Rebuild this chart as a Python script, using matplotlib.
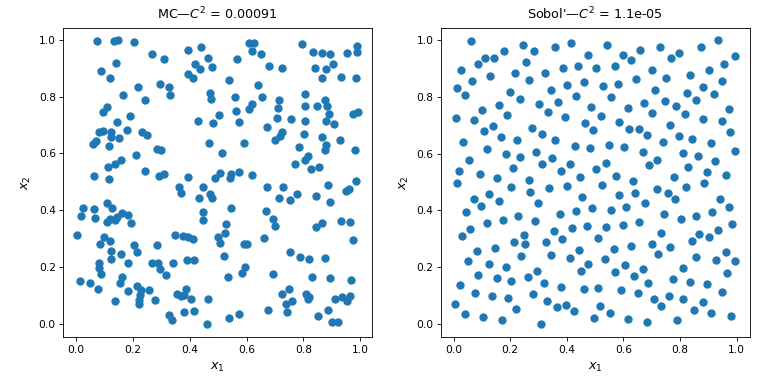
import numpy as np
import matplotlib
matplotlib.use("Agg")
import matplotlib.pyplot as plt

# === Point sets (x1, x2) ===
mc_points = [
    (0.075, 0.994), (0.135, 0.994), (0.149, 0.998), (0.205, 0.992), (0.268, 0.950),
    (0.311, 0.931), (0.395, 0.962), (0.441, 0.973), (0.465, 0.934), (0.419, 0.914),
    (0.436, 0.897), (0.479, 0.904), (0.142, 0.918), (0.089, 0.889), (0.121, 0.864),
    (0.395, 0.879), (0.410, 0.865), (0.219, 0.832), (0.295, 0.844), (0.328, 0.832),
    (0.332, 0.804), (0.166, 0.804), (0.244, 0.787), (0.470, 0.812), (0.474, 0.793),
    (0.108, 0.763), (0.096, 0.744), (0.188, 0.730), (0.145, 0.709), (0.430, 0.714),
    (0.483, 0.708), (0.178, 0.682), (0.079, 0.674), (0.096, 0.678), (0.122, 0.675),
    (0.123, 0.659), (0.150, 0.653), (0.070, 0.642), (0.061, 0.633), (0.117, 0.626),
    (0.232, 0.675), (0.249, 0.666), (0.469, 0.635), (0.283, 0.615), (0.300, 0.611),
    (0.212, 0.594), (0.159, 0.576), (0.138, 0.563), (0.111, 0.553), (0.064, 0.519),
    (0.117, 0.510), (0.244, 0.537), (0.292, 0.522), (0.308, 0.528), (0.395, 0.517),
    (0.490, 0.515),
    (0.610, 0.989), (0.627, 0.988), (0.620, 0.959), (0.652, 0.950), (0.796, 0.985),
    (0.834, 0.957), (0.865, 0.953), (0.893, 0.950), (0.905, 0.914), (0.954, 0.953),
    (0.989, 0.977), (0.987, 0.955), (0.567, 0.931), (0.680, 0.906), (0.726, 0.900),
    (0.842, 0.899), (0.880, 0.896), (0.866, 0.865), (0.933, 0.869), (0.986, 0.864),
    (0.539, 0.860), (0.641, 0.839), (0.655, 0.798), (0.560, 0.797), (0.715, 0.788),
    (0.710, 0.760), (0.807, 0.809), (0.807, 0.766), (0.849, 0.767), (0.875, 0.789),
    (0.882, 0.766), (0.889, 0.739), (0.879, 0.715), (0.909, 0.702), (0.618, 0.774),
    (0.607, 0.756), (0.564, 0.749), (0.504, 0.734), (0.574, 0.709), (0.708, 0.725),
    (0.757, 0.721), (0.805, 0.714), (0.975, 0.739), (0.993, 0.746), (0.673, 0.692),
    (0.723, 0.675), (0.717, 0.660), (0.698, 0.647), (0.802, 0.669), (0.866, 0.658),
    (0.880, 0.631), (0.877, 0.612), (0.930, 0.647), (0.592, 0.635), (0.785, 0.623),
    (0.815, 0.592), (0.805, 0.578), (0.982, 0.612), (0.512, 0.600), (0.770, 0.563),
    (0.828, 0.544), (0.856, 0.551), (0.506, 0.531), (0.544, 0.528), (0.542, 0.513),
    (0.574, 0.533), (0.620, 0.524), (0.986, 0.504),
    (0.362, 0.481), (0.368, 0.460), (0.448, 0.483), (0.434, 0.442), (0.472, 0.457),
    (0.477, 0.443), (0.448, 0.395), (0.448, 0.366), (0.108, 0.424), (0.128, 0.407),
    (0.026, 0.407), (0.018, 0.380), (0.064, 0.403), (0.068, 0.372), (0.108, 0.358),
    (0.120, 0.368), (0.137, 0.366), (0.145, 0.377), (0.161, 0.389), (0.184, 0.383),
    (0.193, 0.354), (0.005, 0.313), (0.098, 0.305), (0.084, 0.281), (0.118, 0.291),
    (0.124, 0.258), (0.122, 0.229), (0.158, 0.246), (0.202, 0.278), (0.216, 0.252),
    (0.283, 0.278), (0.182, 0.215), (0.082, 0.216), (0.079, 0.197), (0.088, 0.175),
    (0.266, 0.216), (0.287, 0.213), (0.294, 0.192), (0.318, 0.171), (0.342, 0.213),
    (0.349, 0.312), (0.377, 0.309), (0.395, 0.307), (0.410, 0.300), (0.389, 0.227),
    (0.416, 0.227), (0.015, 0.151), (0.050, 0.143), (0.076, 0.122), (0.161, 0.164),
    (0.155, 0.143), (0.138, 0.081), (0.182, 0.115), (0.216, 0.135), (0.229, 0.120),
    (0.225, 0.103), (0.222, 0.084), (0.220, 0.069), (0.258, 0.120), (0.279, 0.084),
    (0.354, 0.104), (0.368, 0.098), (0.385, 0.122), (0.380, 0.102), (0.403, 0.088),
    (0.464, 0.088), (0.327, 0.033), (0.339, 0.014), (0.381, 0.041), (0.416, 0.046),
    (0.461, 0.002),
    (0.673, 0.481), (0.729, 0.481), (0.885, 0.489), (0.715, 0.442), (0.754, 0.438),
    (0.778, 0.456), (0.843, 0.450), (0.893, 0.431), (0.948, 0.467), (0.960, 0.474),
    (0.545, 0.407), (0.669, 0.399), (0.694, 0.368), (0.701, 0.345), (0.529, 0.351),
    (0.524, 0.322), (0.501, 0.307), (0.506, 0.286), (0.662, 0.301), (0.592, 0.280),
    (0.601, 0.280), (0.845, 0.340), (0.864, 0.354), (0.932, 0.363), (0.965, 0.358),
    (0.975, 0.294), (0.522, 0.241), (0.754, 0.252), (0.787, 0.237), (0.821, 0.229),
    (0.877, 0.234), (0.594, 0.199), (0.585, 0.178), (0.536, 0.164), (0.691, 0.175),
    (0.831, 0.164), (0.893, 0.162), (0.967, 0.154), (0.750, 0.125), (0.726, 0.104),
    (0.761, 0.082), (0.739, 0.070), (0.743, 0.043), (0.808, 0.106), (0.819, 0.096),
    (0.815, 0.089), (0.911, 0.088), (0.934, 0.096), (0.952, 0.082), (0.964, 0.098),
    (0.676, 0.049), (0.574, 0.034), (0.539, 0.021), (0.852, 0.028), (0.887, 0.049),
    (0.899, 0.009), (0.920, 0.009),
]

sobol_points = [
    (0.061, 0.995), (0.246, 0.983), (0.285, 0.962), (0.359, 0.973), (0.416, 0.987),
    (0.476, 0.948), (0.178, 0.959), (0.111, 0.936), (0.143, 0.936), (0.087, 0.913),
    (0.255, 0.923), (0.026, 0.892), (0.129, 0.874), (0.217, 0.882), (0.266, 0.860),
    (0.322, 0.884), (0.387, 0.902), (0.440, 0.909), (0.505, 0.899), (0.065, 0.854),
    (0.012, 0.831), (0.040, 0.807), (0.200, 0.817), (0.234, 0.792), (0.345, 0.822),
    (0.401, 0.842), (0.462, 0.850), (0.433, 0.803), (0.370, 0.782), (0.302, 0.775),
    (0.161, 0.771), (0.100, 0.752), (0.190, 0.736), (0.334, 0.746), (0.394, 0.729),
    (0.486, 0.764), (0.007, 0.726), (0.072, 0.718), (0.465, 0.708), (0.494, 0.683),
    (0.139, 0.697), (0.107, 0.679), (0.277, 0.691), (0.314, 0.669), (0.168, 0.658),
    (0.224, 0.647), (0.359, 0.647), (0.035, 0.639), (0.118, 0.617), (0.187, 0.599),
    (0.234, 0.588), (0.292, 0.607), (0.430, 0.627), (0.483, 0.619), (0.055, 0.577),
    (0.349, 0.585), (0.313, 0.563), (0.412, 0.564), (0.210, 0.548), (0.380, 0.540),
    (0.447, 0.518), (0.503, 0.544), (0.019, 0.538), (0.093, 0.528), (0.153, 0.513),
    (0.267, 0.507),
    (0.543, 0.983), (0.597, 0.948), (0.628, 0.927), (0.660, 0.965), (0.731, 0.976),
    (0.770, 0.934), (0.798, 0.955), (0.875, 0.976), (0.933, 0.998), (0.993, 0.941),
    (0.954, 0.916), (0.904, 0.895), (0.947, 0.856), (0.571, 0.906), (0.702, 0.892),
    (0.646, 0.863), (0.751, 0.866), (0.837, 0.877), (0.529, 0.837), (0.582, 0.846),
    (0.713, 0.824), (0.826, 0.814), (0.883, 0.834), (0.919, 0.810), (0.855, 0.789),
    (0.557, 0.800), (0.673, 0.778), (0.747, 0.785), (0.787, 0.767), (0.972, 0.758),
    (0.617, 0.761), (0.702, 0.742), (0.818, 0.738), (0.880, 0.722), (0.950, 0.715),
    (0.521, 0.732), (0.586, 0.711), (0.764, 0.700), (0.621, 0.686), (0.655, 0.686),
    (0.685, 0.665), (0.795, 0.662), (0.844, 0.651), (0.978, 0.676), (0.741, 0.640),
    (0.911, 0.637), (0.550, 0.630), (0.603, 0.623), (0.671, 0.605), (0.809, 0.601),
    (0.865, 0.591), (0.996, 0.610), (0.720, 0.579), (0.692, 0.560), (0.540, 0.567),
    (0.924, 0.573), (0.830, 0.552), (0.574, 0.520), (0.780, 0.518), (0.897, 0.534),
    (0.961, 0.524), (0.635, 0.505),
    (0.012, 0.498), (0.202, 0.481), (0.269, 0.466), (0.338, 0.478), (0.401, 0.486),
    (0.072, 0.442), (0.125, 0.458), (0.161, 0.432), (0.097, 0.417), (0.043, 0.395),
    (0.299, 0.428), (0.455, 0.446), (0.375, 0.389), (0.433, 0.399), (0.489, 0.408),
    (0.228, 0.380), (0.175, 0.368), (0.118, 0.357), (0.288, 0.364), (0.471, 0.347),
    (0.419, 0.340), (0.057, 0.336), (0.030, 0.311), (0.249, 0.315), (0.253, 0.281),
    (0.355, 0.327), (0.384, 0.301), (0.327, 0.288), (0.214, 0.290), (0.083, 0.258),
    (0.146, 0.268), (0.237, 0.241), (0.345, 0.245), (0.412, 0.233), (0.444, 0.262),
    (0.476, 0.212), (0.451, 0.189), (0.051, 0.224), (0.125, 0.212), (0.185, 0.200),
    (0.295, 0.189), (0.087, 0.172), (0.153, 0.163), (0.202, 0.151), (0.263, 0.166),
    (0.320, 0.145), (0.380, 0.130), (0.460, 0.125), (0.022, 0.138), (0.074, 0.110),
    (0.136, 0.101), (0.192, 0.092), (0.281, 0.106), (0.331, 0.083), (0.365, 0.061),
    (0.398, 0.067), (0.426, 0.047), (0.005, 0.071), (0.039, 0.035), (0.104, 0.026),
    (0.170, 0.015), (0.221, 0.053), (0.309, 0.002), (0.497, 0.021),
    (0.525, 0.489), (0.823, 0.481), (0.885, 0.495), (0.720, 0.474), (0.756, 0.460),
    (0.783, 0.439), (0.641, 0.462), (0.586, 0.453), (0.678, 0.425), (0.610, 0.414),
    (0.557, 0.403), (0.940, 0.439), (0.975, 0.414), (0.914, 0.393), (0.858, 0.382),
    (0.802, 0.371), (0.745, 0.387), (0.656, 0.361), (0.600, 0.350), (0.540, 0.343),
    (0.983, 0.354), (0.933, 0.333), (0.901, 0.308), (0.869, 0.318), (0.844, 0.294),
    (0.734, 0.322), (0.511, 0.304), (0.700, 0.283), (0.628, 0.276), (0.566, 0.265),
    (0.724, 0.248), (0.766, 0.272), (0.857, 0.237), (0.961, 0.255), (0.929, 0.226),
    (0.993, 0.221), (0.968, 0.180), (0.536, 0.229), (0.607, 0.209), (0.571, 0.184),
    (0.668, 0.195), (0.639, 0.169), (0.812, 0.198), (0.688, 0.145), (0.777, 0.159),
    (0.834, 0.149), (0.894, 0.140), (0.509, 0.127), (0.593, 0.120), (0.653, 0.110),
    (0.710, 0.088), (0.762, 0.099), (0.812, 0.088), (0.734, 0.064), (0.883, 0.078),
    (0.848, 0.050), (0.947, 0.113), (0.517, 0.064), (0.553, 0.039), (0.617, 0.018),
    (0.685, 0.007), (0.791, 0.014), (0.908, 0.039), (0.982, 0.028),
]

titles = ["MC\u2014$C^2$ = 0.00091", "Sobol'\u2014$C^2$ = 1.1e-05"]

# === Plotting ===
fig, axs = plt.subplots(1, 2, figsize=(10, 5), dpi=76.8)
fig.subplots_adjust(left=0.0824, right=0.976, bottom=0.122, top=0.927, wspace=0.225)

for ax, pts, title in zip(axs, [mc_points, sobol_points], titles):
    x1, x2 = np.array(pts).T
    ax.scatter(x1, x2, s=46, color="#1f77b4")
    ax.set_title(title, pad=8)
    ax.set_xlabel("$x_1$", fontsize=12, labelpad=6)
    ax.set_ylabel("$x_2$", fontsize=12, labelpad=5)

axs[0].set_xlim(-0.045, 1.04)
axs[0].set_ylim(-0.046, 1.041)
axs[1].set_xlim(-0.044, 1.046)
axs[1].set_ylim(-0.045, 1.041)

plt.savefig("out.png", dpi=76.8)
